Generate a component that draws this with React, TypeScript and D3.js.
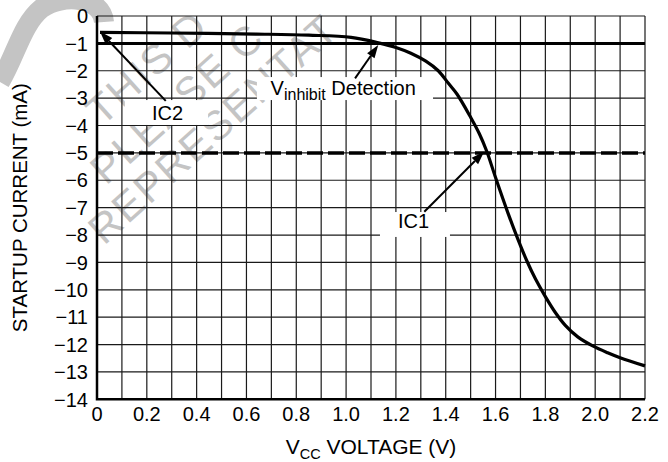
import * as d3 from 'd3';
import { useEffect, useRef } from 'react';

const width = 668;
const height = 462;
const margin = { top: 16, right: 23, bottom: 62.7, left: 97 };

// startup current curve
const vccVoltage = [
    0.012, 0.3, 0.64, 0.85, 1.02, 1.13, 1.2, 1.26, 1.32, 1.37, 1.41, 1.445, 1.5, 1.535, 1.565, 1.6,
    1.65, 1.69, 1.725, 1.76, 1.8, 1.84, 1.88, 1.93, 1.99, 2.05, 2.1, 2.2,
];
const startupCurrent = [
    -0.6, -0.62, -0.66, -0.7, -0.78, -0.98, -1.15, -1.36, -1.65, -2.0, -2.45, -2.85, -3.7, -4.3,
    -4.95, -5.9, -7.2, -8.16, -8.93, -9.6, -10.25, -10.83, -11.3, -11.72, -12.05, -12.3, -12.48, -12.78,
];

const inhibitLevel = -1;
const ic1Level = -5;

const xTicks = [0, 0.2, 0.4, 0.6, 0.8, 1.0, 1.2, 1.4, 1.6, 1.8, 2.0, 2.2];
const yTicks = [0, -1, -2, -3, -4, -5, -6, -7, -8, -9, -10, -11, -12, -13, -14];

type Note = {
    label: string;
    sub?: string;
    rest?: string;
    tail: [number, number];
    tip: [number, number];
    at: [number, number];
    box: [number, number, number, number];
    anchor: 'start' | 'middle';
};

const notes: Note[] = [
    { label: 'IC2', tail: [0.276, -3.1], tip: [0.012, -0.57], at: [0.283, -3.8], box: [0.112, 0.446, -3.07, -3.98], anchor: 'middle' },
    { label: 'V', sub: 'inhibit', rest: ' Detection', tail: [1.036, -2.28], tip: [1.129, -1.06], at: [0.697, -2.89], box: [0.642, 1.349, -2.23, -3.07], anchor: 'start' },
    { label: 'IC1', tail: [1.314, -7.15], tip: [1.554, -4.96], at: [1.271, -7.74], box: [1.136, 1.417, -7.16, -8.07], anchor: 'middle' },
];

// the part of the diagonal stamp that stays inside the picture
const watermark = [
    { text: 'THIS D', x: 102, y: 127 },
    { text: 'PLEASE C', x: 106, y: 186 },
    { text: 'REPRESENTAT', x: 104, y: 246 },
];

const font = 'Liberation Sans, Arial, Helvetica, sans-serif';

export default function App() {
    const ref = useRef<SVGSVGElement>(null);

    useEffect(() => {
        if (!ref.current) return;
        const svg = d3.select(ref.current);
        svg.selectAll('*').remove();

        const x = d3.scaleLinear().domain([0, 2.2]).range([margin.left, width - margin.right]);
        const y = d3.scaleLinear().domain([-14, 0]).range([height - margin.bottom, margin.top]);

        // faint watermark behind everything
        const wm = svg.append('g').attr('fill', '#c4c4c4').attr('font-family', font);
        wm.append('path')
            .attr('d', 'M 104 22 C 102 -4, 62 -6, 42 8 C 22 24, 16 55, 0 82')
            .attr('fill', 'none')
            .attr('stroke', '#c4c4c4')
            .attr('stroke-width', 20);
        wm.selectAll('text')
            .data(watermark)
            .join('text')
            .attr('transform', (d) => `translate(${d.x},${d.y}) rotate(-42)`)
            .attr('font-size', 41)
            .attr('letter-spacing', 2)
            .text((d) => d.text);

        // grid
        const grid = svg.append('g').attr('stroke', '#1a1a1a').attr('stroke-width', 1.2);
        grid.selectAll('line.v')
            .data(d3.range(0, 23).map((i) => i / 10))
            .join('line')
            .attr('x1', (d) => x(d))
            .attr('x2', (d) => x(d))
            .attr('y1', y(0))
            .attr('y2', y(-14));
        grid.selectAll('line.h')
            .data(yTicks)
            .join('line')
            .attr('x1', x(0))
            .attr('x2', x(2.2))
            .attr('y1', (d) => y(d))
            .attr('y2', (d) => y(d));

        // heavier left and bottom axis
        svg.append('path')
            .attr('d', `M${x(0)},${y(0)}V${y(-14)}H${x(2.2)}`)
            .attr('fill', 'none')
            .attr('stroke', '#000')
            .attr('stroke-width', 2.5);

        // reference levels
        svg.append('line')
            .attr('x1', x(0))
            .attr('x2', x(2.2))
            .attr('y1', y(inhibitLevel))
            .attr('y2', y(inhibitLevel))
            .attr('stroke', '#000')
            .attr('stroke-width', 3);
        svg.append('line')
            .attr('x1', x(0))
            .attr('x2', x(2.2))
            .attr('y1', y(ic1Level))
            .attr('y2', y(ic1Level))
            .attr('stroke', '#000')
            .attr('stroke-width', 3.5)
            .attr('stroke-dasharray', '16,5');

        // curve
        const line = d3
            .line<number>()
            .x((d) => x(d))
            .y((_, i) => y(startupCurrent[i]))
            .curve(d3.curveCatmullRom.alpha(0.5));
        svg.append('path')
            .attr('d', line(vccVoltage))
            .attr('fill', 'none')
            .attr('stroke', '#000')
            .attr('stroke-width', 3.2);

        // annotations
        const ann = svg.append('g').attr('font-family', font);
        notes.forEach((n) => {
            ann.append('rect')
                .attr('x', x(n.box[0]))
                .attr('y', y(n.box[2]))
                .attr('width', x(n.box[1]) - x(n.box[0]))
                .attr('height', y(n.box[3]) - y(n.box[2]))
                .attr('fill', '#fff');
            const t = ann
                .append('text')
                .attr('x', x(n.at[0]))
                .attr('y', y(n.at[1]))
                .attr('font-size', 20)
                .attr('text-anchor', n.anchor)
                .text(n.label);
            if (n.sub) {
                t.append('tspan').attr('font-size', 16).attr('dy', 5).text(n.sub);
                t.append('tspan').attr('dy', -5).text(n.rest ?? '');
            }
            const [x1, y1] = [x(n.tail[0]), y(n.tail[1])];
            const [x2, y2] = [x(n.tip[0]), y(n.tip[1])];
            const a = Math.atan2(y2 - y1, x2 - x1);
            const len = 13;
            const w = 4.5;
            const bx = x2 - len * Math.cos(a);
            const by = y2 - len * Math.sin(a);
            ann.append('line')
                .attr('x1', x1)
                .attr('y1', y1)
                .attr('x2', bx)
                .attr('y2', by)
                .attr('stroke', '#000')
                .attr('stroke-width', 2);
            ann.append('path')
                .attr(
                    'd',
                    `M${x2},${y2}L${bx - w * Math.sin(a)},${by + w * Math.cos(a)}L${bx + w * Math.sin(a)},${by - w * Math.cos(a)}Z`,
                )
                .attr('fill', '#000');
        });

        // tick labels
        const labels = svg.append('g').attr('font-family', font).attr('font-size', 20).attr('fill', '#000');
        labels.selectAll('text.y')
            .data(yTicks)
            .join('text')
            .attr('x', margin.left - 9)
            .attr('y', (d) => y(d))
            .attr('dy', '0.36em')
            .attr('text-anchor', 'end')
            .text((d) => (d === 0 ? '0' : `\u2212${Math.abs(d)}`));
        labels.selectAll('text.x')
            .data(xTicks)
            .join('text')
            .attr('x', (d) => x(d))
            .attr('y', y(-14) + 21.7)
            .attr('text-anchor', 'middle')
            .text((d) => (d === 0 ? '0' : d3.format('.1f')(d)));

        // axis titles
        const xt = labels
            .append('text')
            .attr('x', (x(0) + x(2.2)) / 2)
            .attr('y', 454)
            .attr('font-size', 21)
            .attr('text-anchor', 'middle')
            .text('V');
        xt.append('tspan').attr('font-size', 14.5).attr('dy', 5).text('CC');
        xt.append('tspan').attr('dy', -5).text(' VOLTAGE (V)');

        labels
            .append('text')
            .attr('transform', `translate(27,${(y(0) + y(-14)) / 2}) rotate(-90)`)
            .attr('font-size', 20.5)
            .attr('text-anchor', 'middle')
            .text('STARTUP CURRENT (mA)');
    }, []);

    return (
        <div style={{ position: 'absolute', left: 0, top: 0, width, height, background: '#fff' }}>
            <svg ref={ref} width={width} height={height} />
        </div>
    );
}
